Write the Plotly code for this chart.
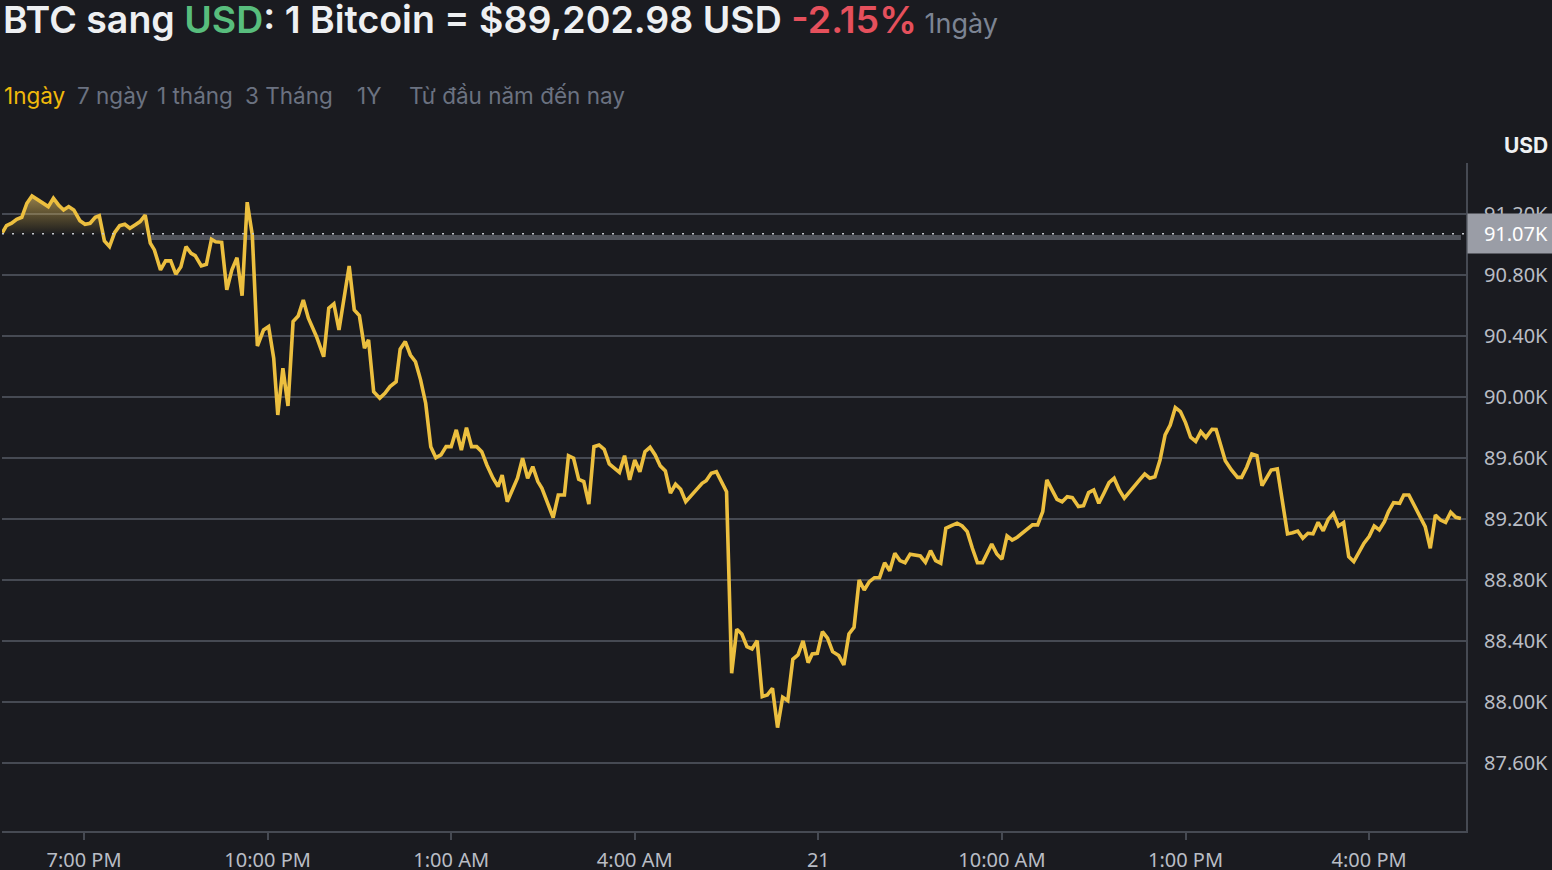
import pandas as pd
import plotly.graph_objects as go

# ---------------- data ----------------
# minutes relative to 7:00 PM (Jan 20) and BTC price in USD
minutes = [
    -80, -76, -71, -66, -61, -56, -51, -46, -41, -35, -30, -25, -20, -15, -10, -4,
    1, 6, 11, 15, 20, 25, 30, 35, 40, 45, 50, 55, 60, 65, 69, 75, 80, 85, 90, 95,
    100, 105, 109, 115, 120, 125, 129, 135, 140, 145, 150, 155, 160, 165, 170, 176,
    181, 186, 190, 195, 200, 205, 210, 215, 220, 228, 235, 240, 245, 250, 256, 260,
    265, 270, 275, 279, 284, 290, 295, 300, 306, 310, 315, 320, 325, 330, 335, 340,
    345, 350, 355, 360, 365, 370, 375, 380, 385, 390, 395, 401, 406, 410, 415, 420,
    425, 430, 435, 440, 445, 449, 455, 460, 465, 471, 475, 480, 485, 490, 495, 500,
    505, 510, 515, 520, 525, 530, 535, 540, 545, 550, 555, 560, 565, 570, 575, 580,
    585, 590, 596, 601, 606, 610, 615, 620, 625, 630, 635, 640, 645, 650, 655, 660,
    665, 670, 675, 680, 685, 690, 695, 700, 705, 710, 714, 719, 724, 729, 734, 740,
    745, 750, 755, 760, 765, 770, 775, 780, 785, 790, 795, 800, 805, 810, 820, 825,
    830, 835, 840, 845, 850, 856, 861, 866, 871, 876, 881, 886, 890, 895, 900, 905,
    910, 915, 920, 925, 930, 935, 940, 944, 949, 954, 959, 964, 969, 975, 980, 985,
    990, 995, 1000, 1005, 1010, 1015, 1020, 1025, 1030, 1035, 1040, 1045, 1050, 1055,
    1060, 1065, 1070, 1075, 1080, 1085, 1090, 1095, 1100, 1106, 1110, 1115, 1119, 1125,
    1131, 1135, 1140, 1145, 1150, 1155, 1160, 1164, 1170, 1175, 1180, 1185, 1190, 1195,
    1200, 1205, 1210, 1215, 1220, 1225, 1230, 1235, 1240, 1245, 1250, 1255, 1260, 1265,
    1270, 1275, 1279, 1284, 1290, 1294, 1299, 1304, 1309, 1315, 1320, 1325, 1330, 1335,
    1340, 1345, 1350,
]
prices = [
    91077, 91123, 91139, 91165, 91178, 91270, 91318, 91296, 91281, 91248, 91303, 91259,
    91226, 91248, 91226, 91156, 91132, 91139, 91178, 91189, 91023, 90986, 91077, 91123,
    91132, 91106, 91128, 91150, 91193, 91008, 90964, 90833, 90892, 90892, 90805, 90854,
    90986, 90942, 90927, 90859, 90870, 91034, 91018, 91014, 90702, 90833, 90913, 90664,
    91277, 91062, 90334, 90439, 90461, 90254, 89882, 90188, 89941, 90494, 90531, 90636,
    90516, 90395, 90264, 90582, 90610, 90439, 90691, 90859, 90570, 90533, 90319, 90374,
    90035, 89992, 90024, 90068, 90100, 90313, 90363, 90275, 90231, 90112, 89959, 89674,
    89602, 89620, 89674, 89674, 89784, 89652, 89799, 89674, 89674, 89641, 89554, 89467,
    89412, 89488, 89313, 89390, 89467, 89598, 89467, 89543, 89445, 89401, 89292, 89209,
    89357, 89357, 89615, 89598, 89460, 89445, 89298, 89674, 89685, 89657, 89561, 89532,
    89506, 89615, 89456, 89587, 89510, 89641, 89670, 89620, 89548, 89515, 89369, 89428,
    89395, 89313, 89357, 89401, 89434, 89451, 89500, 89510, 89445, 89379, 88188, 88477,
    88446, 88363, 88348, 88402, 88035, 88046, 88090, 87832, 88031, 88009, 88280, 88308,
    88400, 88258, 88315, 88319, 88461, 88418, 88330, 88304, 88243, 88446, 88490, 88800,
    88734, 88789, 88815, 88815, 88913, 88861, 88975, 88927, 88913, 88969, 88957, 88916,
    88992, 88927, 88910, 89139, 89154, 89172, 89154, 89117, 89008, 88913, 88913, 88975,
    89036, 88970, 88936, 89089, 89062, 89080, 89106, 89132, 89161, 89161, 89248, 89456,
    89395, 89329, 89313, 89346, 89340, 89281, 89287, 89373, 89390, 89303, 89369, 89438,
    89467, 89390, 89336, 89379, 89418, 89456, 89495, 89467, 89477, 89587, 89751, 89816,
    89930, 89904, 89832, 89736, 89708, 89772, 89734, 89788, 89787, 89664, 89582, 89521,
    89473, 89473, 89539, 89626, 89615, 89418, 89482, 89521, 89528, 89313, 89102, 89110,
    89121, 89073, 89106, 89102, 89178, 89123, 89198, 89237, 89154, 89176, 88953, 88920,
    88979, 89041, 89084, 89154, 89128, 89182, 89248, 89307, 89303, 89357, 89357, 89296,
    89226, 89150, 89008, 89226, 89193, 89178, 89244, 89211, 89203,
]
open_price = 91070
fill_until_minute = 64          # highlighted (above-open) area only at the start

tick_minutes = [0, 180, 360, 540, 720, 900, 1080, 1260]
tick_labels = ["7:00 PM", "10:00 PM", "1:00 AM", "4:00 AM", "21", "10:00 AM", "1:00 PM", "4:00 PM"]
y_ticks = [87600, 88000, 88400, 88800, 89200, 89600, 90000, 90400, 90800, 91200]
y_tick_labels = ["87.60K", "88.00K", "88.40K", "88.80K", "89.20K", "89.60K", "90.00K",
                 "90.40K", "90.80K", "91.20K"]
x_range_minutes = [-80.4, 1355]
y_range = [87154, 91534]

title_parts = ["BTC sang ", "USD", ": 1 Bitcoin = $89,202.98 USD ", "-2.15%", " 1ngày"]
tabs = ["1ngày", "7 ngày", "1 tháng", "3 Tháng", "1Y", "Từ đầu năm đến nay"]
tab_px = [4, 77, 157, 245, 357, 409]
# -----------------------------------------------------------------

BG = "#1a1b20"
GRID = "#464a53"
LINE = "#ecbf3f"
TXT = "#b9bdc5"
FONT = "Noto Sans"

base = pd.Timestamp("2026-01-20 19:00")
to_t = lambda m: base + pd.to_timedelta(m, unit="m")
times = to_t(pd.Series(minutes, dtype=float))

# clipped (above open) polyline for the filled start region, with crossings
fx, fy = [], []
for i in range(len(minutes)):
    m, p = minutes[i], prices[i]
    if m > fill_until_minute:
        break
    if i > 0:
        m0, p0 = minutes[i - 1], prices[i - 1]
        if (p0 - open_price) * (p - open_price) < 0:
            mc = m0 + (m - m0) * (open_price - p0) / (p - p0)
            fx.append(mc); fy.append(open_price)
    fx.append(m); fy.append(max(p, open_price))
idx = next(k for k, m in enumerate(minutes) if m > fill_until_minute)
m0, p0, m1, p1 = minutes[idx - 1], prices[idx - 1], minutes[idx], prices[idx]
if (p0 - open_price) * (p1 - open_price) < 0:
    fx.append(m0 + (m1 - m0) * (open_price - p0) / (p1 - p0)); fy.append(open_price)
fill_t = to_t(pd.Series(fx, dtype=float))

fig = go.Figure()
fig.add_trace(go.Scatter(x=fill_t, y=[open_price] * len(fx), mode="lines",
                         line=dict(width=0), hoverinfo="skip", showlegend=False))
fig.add_trace(go.Scatter(
    x=fill_t, y=fy, mode="lines", line=dict(width=0), fill="tonexty",
    fillgradient=dict(type="vertical", start=open_price, stop=max(fy),
                      colorscale=[[0, "rgba(236,191,63,0.03)"], [1, "rgba(236,200,110,0.6)"]]),
    hoverinfo="skip", showlegend=False))

# open-price reference (gray band + dotted line)
cross_m = fx[-1]
fig.add_shape(type="line", xref="x", yref="y", x0=to_t(cross_m), x1=times.iloc[-1],
              y0=open_price - 25, y1=open_price - 25, line=dict(color="#50535b", width=5), layer="below")
fig.add_shape(type="line", xref="x", yref="y", x0=to_t(x_range_minutes[0]), x1=to_t(x_range_minutes[1]),
              y0=open_price, y1=open_price, line=dict(color="#c4c7cd", width=1.3, dash="2px,8px"))

fig.add_trace(go.Scatter(x=times, y=prices, mode="lines",
                         line=dict(color=LINE, width=3.6, shape="linear"),
                         hoverinfo="skip", showlegend=False))

L, R, T, B = 2, 1466, 163, 831
W, H = 1552, 870
px_x = lambda px: (px - L) / (R - L)
px_y = lambda py: (B - py) / (B - T)

fig.update_layout(
    width=W, height=H,
    margin=dict(l=L, r=W - R, t=T, b=H - B, pad=0, autoexpand=False),
    paper_bgcolor=BG, plot_bgcolor=BG,
    font=dict(family=FONT, color=TXT, size=20),
    showlegend=False,
    xaxis=dict(
        range=[to_t(x_range_minutes[0]), to_t(x_range_minutes[1])],
        tickmode="array", tickvals=[to_t(m) for m in tick_minutes], ticktext=tick_labels,
        showgrid=False, zeroline=False, automargin=False,
        showline=True, linecolor=GRID, linewidth=2,
        ticks="outside", ticklen=7, tickwidth=1.5, tickcolor=GRID,
        tickfont=dict(family=FONT, size=20, color=TXT), ticklabelstandoff=3,
    ),
    yaxis=dict(
        range=y_range, side="right", automargin=False,
        tickmode="array", tickvals=y_ticks, ticktext=y_tick_labels,
        showgrid=True, gridcolor=GRID, gridwidth=2,
        zeroline=False, showline=True, linecolor=GRID, linewidth=2,
        ticks="", tickfont=dict(family=FONT, size=20, color=TXT), ticklabelstandoff=12,
    ),
)

ann = []
title_html = (f"{title_parts[0]}<span style='color:#58bd7d'>{title_parts[1]}</span>{title_parts[2]}"
              f"<span style='color:#e5505c'>{title_parts[3]}</span>"
              f"<span style='color:#7c8493;font-size:27px;font-weight:400'>{title_parts[4]}</span>")
ann.append(dict(text=title_html, xref="paper", yref="paper", x=px_x(1), y=px_y(19.5),
                xanchor="left", yanchor="middle", showarrow=False,
                font=dict(family="Inter", size=37.5, color="#eef0f2", weight=600)))
for t, p in zip(tabs, tab_px):
    ann.append(dict(text=t, xref="paper", yref="paper", x=px_x(p - 2), y=px_y(96),
                    xanchor="left", yanchor="middle", showarrow=False,
                    font=dict(family="Inter", size=22.5, color="#f0b90b" if t == tabs[0] else "#6b7281")))
ann.append(dict(text="USD", xref="paper", yref="paper", x=px_x(1550), y=px_y(145),
                xanchor="right", yanchor="middle", showarrow=False,
                font=dict(family="Inter", size=21, color="#eef0f2", weight=700)))
ann.append(dict(text=f"{open_price/1000:.2f}K", xref="paper", yref="y", x=px_x(1467), y=open_price,
                xanchor="left", yanchor="middle", showarrow=False, bgcolor="#9a9da6",
                borderpad=6, width=74, align="right",
                font=dict(family=FONT, size=20, color="#ffffff")))
fig.update_layout(annotations=ann)

fig.write_html(
    "out.html",
    config={"displayModeBar": False},
    post_script="document.body.style.margin='0px';document.body.style.background='#1a1b20';"
                "document.documentElement.style.overflow='hidden';",
)
